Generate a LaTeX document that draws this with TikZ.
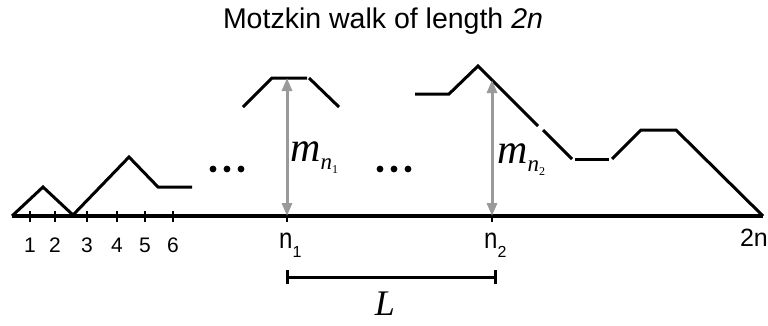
\documentclass[tikz,border=0pt]{standalone}
\usepackage{fontspec}
\setmainfont{Liberation Sans}
\newfontfamily\tms{Liberation Serif}
\usetikzlibrary{arrows.meta}
\definecolor{arrgray}{HTML}{9A9A9A}
\tikzset{
  walk/.style={line width=3pt, line cap=butt, line join=miter},
  axisline/.style={line width=3.4pt},
  tickmark/.style={line width=2.8pt},
  height/.style={arrgray, line width=3pt, {Triangle[length=13pt,width=10pt]}-{Triangle[length=13pt,width=10pt]}},
  lbl/.style={inner sep=0pt, anchor=base, font=\fontsize{21}{21}\selectfont},
  bigdot/.style={fill=black},
}
\newcommand{\sublbl}[1]{\scalebox{1}[1.2]{\fontsize{24}{24}\selectfont n}\raisebox{-9pt}{\fontsize{16}{16}\selectfont #1}}
\newcommand{\mlbl}[1]{{\tms\itshape\fontsize{42}{42}\selectfont m\raisebox{-8pt}{\fontsize{23}{23}\selectfont n\raisebox{-4pt}{\upshape\fontsize{12}{12}\selectfont #1}}}}
\begin{document}
\begin{tikzpicture}[x=1pt,y=-1pt]
\useasboundingbox (0,0) rectangle (768,325);
% title
\node[inner sep=0pt, anchor=base] (title) at (383,28) {\fontsize{28.5}{28.5}\selectfont Motzkin walk of length \textit{2n}};
% axis
\coordinate (a0) at (12,216);
\coordinate (a1) at (763,216);
\draw[axisline] (a0) -- (a1);
% ticks and labels
\foreach \x/\t [count=\i] in {30/1,55/2,87/3,117/4,145/5,173/6}{
  \coordinate (t\i) at (\x,216);
  \draw[tickmark] ([yshift=-5.5pt]t\i) -- ([yshift=5.5pt]t\i);
  \node[lbl] (l\i) at (\x,252) {\t};
}
\coordinate (tn1) at (287,216);
\coordinate (tn2) at (492,216);
\draw[tickmark] ([yshift=-5.5pt]tn1) -- ([yshift=5.5pt]tn1);
\draw[tickmark] ([yshift=-5.5pt]tn2) -- ([yshift=5.5pt]tn2);
\node[lbl, anchor=base west] (ln1) at (279,248) {\sublbl{1}};
\node[lbl, anchor=base west] (ln2) at (484,248) {\sublbl{2}};
\node[lbl, anchor=base east, font=\fontsize{25}{25}\selectfont] (l2n) at (768,246) {2n};
% walk pieces
\draw[walk] (a0) -- (43,187) -- (73,215) -- (129,157) -- (158,187) -- (192,187);
\draw[walk] (243,107) -- (272,78) -- (307,78);
\draw[walk] (309,78) -- (339,107);
\draw[walk] (415,94) -- (449,94) -- (478,66) -- (538,126);
\draw[walk] (543,130) -- (572,159);
\draw[walk] (575,159) -- (609,159);
\draw[walk] (612,159) -- (641,130) -- (676,130) -- (a1);
% dots
\foreach \x [count=\i] in {213,227,241}{\fill[bigdot] (\x,169) circle (3.4pt);}
\foreach \x [count=\i] in {380,394,408}{\fill[bigdot] (\x,169) circle (3.4pt);}
% height arrows
\coordinate (h1top) at (287,78);
\coordinate (h2top) at (492,80);
\draw[height] (h1top) -- (tn1);
\draw[height] (h2top) -- (tn2);
\node[inner sep=0pt, anchor=base west] (m1) at (290,161) {\mlbl{1}};
\node[inner sep=0pt, anchor=base west] (m2) at (497,163) {\mlbl{2}};
% L bracket
\coordinate (L0) at (287,277);
\coordinate (L1) at (495,277);
\draw[line width=3pt] (L0) -- (L1);
\draw[line width=3pt] ([yshift=-7pt]L0) -- ([yshift=7pt]L0);
\draw[line width=3pt] ([yshift=-7pt]L1) -- ([yshift=7pt]L1);
\node[inner sep=0pt, anchor=base] (L) at (385,315) {\tms\itshape\fontsize{36}{36}\selectfont L};
\end{tikzpicture}
\end{document}
